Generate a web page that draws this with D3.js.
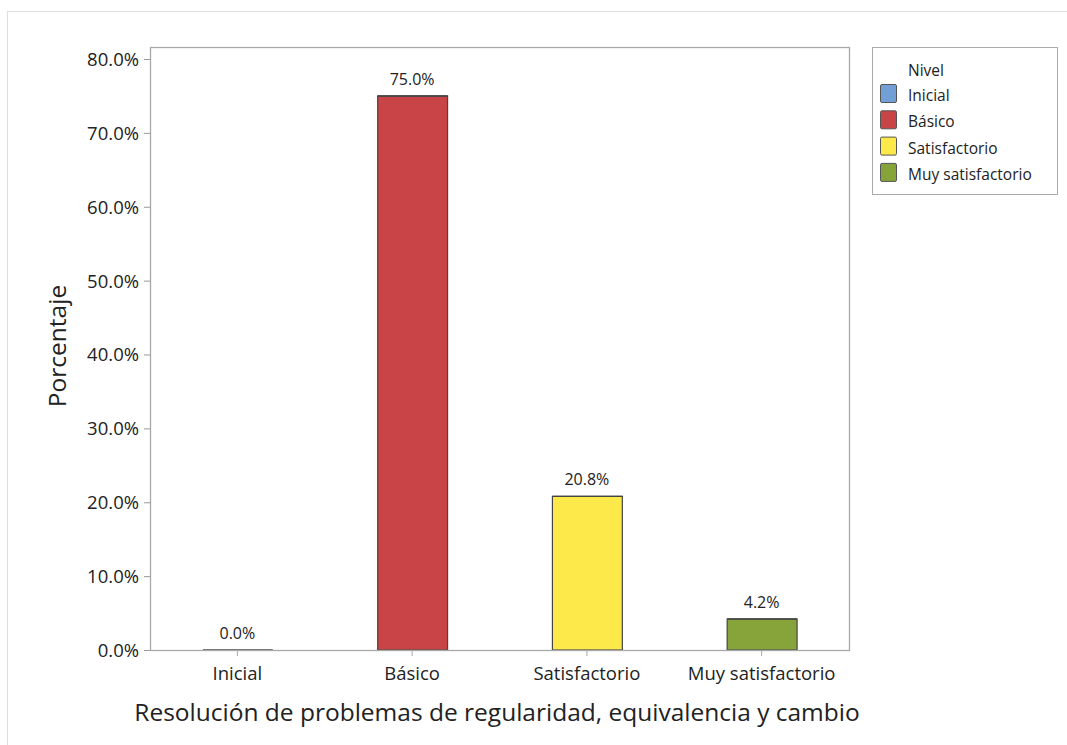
<!DOCTYPE html>
<html><head><meta charset="utf-8">
<script src="https://cdn.jsdelivr.net/npm/d3@7"></script>
<style>body{margin:0;background:#fff}svg{display:block}text{font-family:"Open Sans","Noto Sans",sans-serif;fill:#222}</style>
</head><body>
<svg id="c" width="1067" height="745"></svg>
<script>
const categories = ["Inicial","Básico","Satisfactorio","Muy satisfactorio"];
const values = [0.0, 75.0, 20.8, 4.2];
const valueLabels = ["0.0%","75.0%","20.8%","4.2%"];
const yTicks = [0,10,20,30,40,50,60,70,80];
const colors = ["#72a0d6","#c84446","#fee94a","#87a43a"];
const legendTitle = "Nivel";
const xTitle = "Resolución de problemas de regularidad, equivalencia y cambio";
const yTitle = "Porcentaje";

const svg = d3.select("#c");
svg.append("rect").attr("x",7.5).attr("y",11.5).attr("width",1100).attr("height",800)
  .attr("fill","none").attr("stroke","#dedede");

const L=150,R=849,T=47,B=650;
const y = d3.scaleLinear().domain([0,80]).range([B,59]);
const x = d3.scaleBand().domain(categories).range([L,R]).paddingInner(0.6).paddingOuter(0.3);

// y axis
const ya = svg.append("g").attr("transform",`translate(${L},0)`)
  .call(d3.axisLeft(y).tickValues(yTicks).tickSize(6).tickFormat(d=>d.toFixed(1)+"%"));
ya.select(".domain").remove();
ya.selectAll("line").attr("stroke","#999");
ya.selectAll("text").attr("font-size",18.5).attr("x",-11).attr("dy","0.35em").style("fill","#222");

const xa = svg.append("g").attr("transform",`translate(0,${B})`)
  .call(d3.axisBottom(x).tickSize(6).tickSizeOuter(0));
xa.select(".domain").remove();
xa.selectAll("line").attr("stroke","#aaa");
xa.selectAll("text").attr("font-size",18.5).attr("y",30).attr("dy",0).style("fill","#222");

// bars
svg.append("g").selectAll("rect").data(values).join("rect")
  .attr("x",(d,i)=>x(categories[i])+0.5).attr("width",x.bandwidth())
  .attr("y",d=>y(d)).attr("height",d=>Math.max(0,B-y(d)))
  .attr("fill",(d,i)=>colors[i]).attr("stroke","#444").attr("stroke-width",1.2);
svg.append("g").selectAll("line").data(values).join("line")
  .attr("x1",(d,i)=>x(categories[i])+0.5).attr("x2",(d,i)=>x(categories[i])+0.5+x.bandwidth())
  .attr("y1",d=>y(d)).attr("y2",d=>y(d)).attr("stroke","#444").attr("stroke-width",1.4);

svg.append("g").selectAll("text").data(values).join("text")
  .attr("x",(d,i)=>x(categories[i])+x.bandwidth()/2).attr("y",d=>y(d)-11)
  .attr("text-anchor","middle").attr("font-size",16).text((d,i)=>valueLabels[i]);

// frame
svg.append("rect").attr("x",L+0.5).attr("y",T+0.5).attr("width",R-L).attr("height",B-T)
  .attr("fill","none").attr("stroke","#a8a8a8").attr("stroke-width",1.3);

// titles
svg.append("text").attr("transform",`translate(66,346) rotate(-90)`)
  .attr("text-anchor","middle").attr("font-size",24.5).text(yTitle);
svg.append("text").attr("x",497).attr("y",721).attr("text-anchor","middle")
  .attr("font-size",24.5).text(xTitle);

// legend
const lg = svg.append("g");
lg.append("rect").attr("x",872.5).attr("y",47.5).attr("width",185).attr("height",147)
  .attr("fill","#fff").attr("stroke","#aaa");
lg.append("text").attr("x",908).attr("y",76).attr("font-size",15.5).text(legendTitle);
categories.forEach((c,i)=>{
  const yy = 84 + i*26.3;
  lg.append("rect").attr("x",880.5).attr("y",yy+0.5).attr("width",16).attr("height",18)
    .attr("fill",colors[i]).attr("stroke","#555").attr("rx",1.5);
  lg.append("text").attr("x",908).attr("y",yy+17).attr("font-size",15.5).text(c);
});
</script>
</body></html>
